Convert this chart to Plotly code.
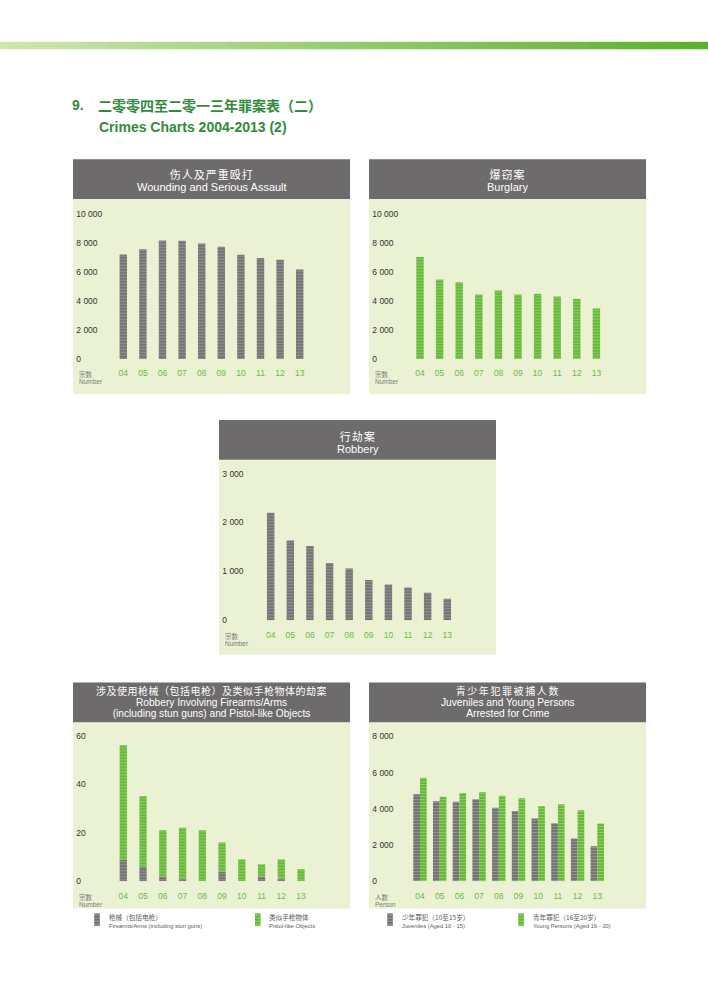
import plotly.graph_objects as go

# ---------------- data ----------------
years = ["04", "05", "06", "07", "08", "09", "10", "11", "12", "13"]
wounding = [7210, 7570, 8170, 8150, 7960, 7740, 7190, 6960, 6840, 6160]
burglary = [7030, 5470, 5290, 4440, 4710, 4440, 4490, 4300, 4140, 3480]
robbery = [2200, 1630, 1520, 1170, 1060, 820, 730, 670, 560, 440]
firearms = [9, 6, 2, 1, 0, 4, 0, 2, 1, 0]
pistol_like = [47, 29, 19, 21, 21, 12, 9, 5, 8, 5]
juveniles = [4800, 4410, 4390, 4520, 4060, 3880, 3460, 3200, 2360, 1940]
young_persons = [5710, 4670, 4870, 4910, 4720, 4580, 4140, 4250, 3920, 3190]

# ---------------- page geometry helpers ----------------
W, H = 708, 1001


def px(x):
    return x / W


def py(y):
    return 1 - y / H


LATIN = "Liberation Sans, Arial, Noto Sans CJK SC, sans-serif"
CJK = "Noto Sans CJK SC, Liberation Sans, sans-serif"
HEADER_GRAY = "#6d6b6c"
PANEL_BG = "#eaf2d3"
TICK_GREEN = "#69bd3f"
TITLE_GREEN = "#318b3b"

GRAY_MARKER = dict(color="#6c6c6c", line=dict(width=0),
                   pattern=dict(shape="-", fgcolor="#959595", bgcolor="#6c6c6c",
                                size=3, solidity=0.45, fillmode="replace"))
GREEN_MARKER = dict(color="#5cb531", line=dict(width=0),
                    pattern=dict(shape="-", fgcolor="#8fcd63", bgcolor="#5cb531",
                                 size=3, solidity=0.45, fillmode="replace"))


def zh_span(txt, size=11, spacing=1.0):
    return ("<span style=\"font-family:'Noto Sans CJK SC';font-size:%spx;"
            "letter-spacing:%spx\">%s</span>" % (size, spacing, txt))


def en_span(txt, size=11):
    return ("<span style=\"font-family:'Liberation Sans',Arial;font-size:%spx\">%s</span>"
            % (size, txt))


panels = [
    dict(left=73, right=350, htop=160, hbot=200, bot=396,
         zero=360.7, ref_val=10000, ref_y=215, ymax=10500, dtick=2000,
         first=123.3, step=19.6, unit=("宗数", "Number"),
         head=[zh_span("伤人及严重殴打"), en_span("Wounding and Serious Assault")],
         head_y=180.9, line_gap=11.8),
    dict(left=369, right=646, htop=160, hbot=200, bot=396,
         zero=360.7, ref_val=10000, ref_y=215, ymax=10500, dtick=2000,
         first=420.0, step=19.6, unit=("宗数", "Number"),
         head=[zh_span("爆窃案"), en_span("Burglary")],
         head_y=180.7, line_gap=12.0),
    dict(left=219, right=496, htop=422, hbot=462, bot=658,
         zero=623.3, ref_val=3000, ref_y=476, ymax=3150, dtick=1000,
         first=270.7, step=19.62, unit=("宗数", "Number"),
         head=[zh_span("行劫案"), en_span("Robbery")],
         head_y=443.6, line_gap=11.7),
    dict(left=73, right=350, htop=686, hbot=726, bot=913,
         zero=885.7, ref_val=60, ref_y=739.3, ymax=63, dtick=20,
         first=123.3, step=19.75, unit=("宗数", "Number"),
         head=[zh_span("涉及使用枪械（包括电枪）及类似手枪物体的劫案", 10, 0.5),
               en_span("Robbery Involving Firearms/Arms", 10.2),
               en_span("(including stun guns) and Pistol-like Objects", 10.2)],
         head_y=705.0, line_gap=11.0),
    dict(left=369, right=646, htop=686, hbot=726, bot=913,
         zero=885.7, ref_val=8000, ref_y=740, ymax=8400, dtick=2000,
         first=420.0, step=19.7, unit=("人数", "Person"),
         head=[zh_span("青少年犯罪被捕人数", 10, 1.6),
               en_span("Juveniles and Young Persons", 10.2),
               en_span("Arrested for Crime", 10.2)],
         head_y=705.0, line_gap=11.0),
]

fig = go.Figure()
shapes = []
annotations = []
layout_axes = {}

# ---------------- top gradient band ----------------
n_slices = 72
c0 = (206, 230, 175)
c1 = (90, 177, 44)
for i in range(n_slices):
    t = i / (n_slices - 1)
    col = "rgb({},{},{})".format(*[round(a + (b - a) * t) for a, b in zip(c0, c1)])
    x0 = W * i / n_slices
    x1 = W * (i + 1) / n_slices + 0.6
    shapes.append(dict(type="rect", xref="paper", yref="paper", layer="below",
                       x0=px(x0), x1=px(min(x1, W)), y0=py(49.5), y1=py(42),
                       fillcolor=col, line=dict(width=0)))

# ---------------- main title ----------------
annotations += [
    dict(text="<b>9.</b>", x=px(70), y=py(106), xref="paper", yref="paper",
         xanchor="left", yanchor="middle", showarrow=False,
         font=dict(family=LATIN, size=14, color=TITLE_GREEN)),
    dict(text="<b>二零零四至二零一三年罪案表（二）</b>", x=px(96), y=py(106),
         xref="paper", yref="paper", xanchor="left", yanchor="middle",
         showarrow=False, font=dict(family=CJK, size=14, color=TITLE_GREEN)),
    dict(text="<b>Crimes Charts 2004-2013 (2)</b>", x=px(96.5), y=py(127.5),
         xref="paper", yref="paper", xanchor="left", yanchor="middle",
         showarrow=False, font=dict(family=LATIN, size=14, color=TITLE_GREEN)),
]

# ---------------- panels: backgrounds, headers, axes ----------------
for k, p in enumerate(panels, start=1):
    shapes.append(dict(type="rect", xref="paper", yref="paper", layer="below",
                       x0=px(p["left"]), x1=px(p["right"]), y0=py(p["bot"]), y1=py(p["hbot"]),
                       fillcolor=PANEL_BG, line=dict(width=0)))
    shapes.append(dict(type="rect", xref="paper", yref="paper", layer="below",
                       x0=px(p["left"]), x1=px(p["right"]), y0=py(p["hbot"]), y1=py(p["htop"]),
                       fillcolor=HEADER_GRAY, line=dict(width=0)))
    cx = (p["left"] + p["right"]) / 2
    annotations.append(dict(text="<br>".join(p["head"]), x=px(cx), y=py(p["head_y"]),
                            xref="paper", yref="paper", xanchor="center", yanchor="middle",
                            align="center", showarrow=False, borderpad=0,
                            font=dict(family=LATIN, size=p["line_gap"] / 1.3, color="white")))
    # unit label
    ux = p["left"] + 4.3
    annotations.append(dict(text=p["unit"][0], x=px(ux), y=py(p["zero"] + 15.5), xref="paper",
                            yref="paper", xanchor="left", yanchor="middle", showarrow=False,
                            font=dict(family=CJK, size=6.5, color="#7a7a7a")))
    annotations.append(dict(text=p["unit"][1], x=px(ux), y=py(p["zero"] + 23), xref="paper",
                            yref="paper", xanchor="left", yanchor="middle", showarrow=False,
                            font=dict(family=LATIN, size=6.5, color="#7a7a7a")))

    scale = (p["zero"] - p["ref_y"]) / p["ref_val"]  # px per unit
    ytop_px = p["zero"] - p["ymax"] * scale
    dom_x0 = p["left"] + 0.3
    dom_x1 = p["right"] - 5
    a = -(p["first"] - dom_x0) / p["step"]
    b = a + (dom_x1 - dom_x0) / p["step"]
    sfx = "" if k == 1 else str(k)
    layout_axes["xaxis" + sfx] = dict(
        domain=[px(dom_x0), px(dom_x1)], anchor="y" + sfx, type="category",
        range=[a, b], showgrid=False, zeroline=False, showline=False, ticks="",
        tickfont=dict(family=LATIN, size=8.5, color=TICK_GREEN), ticklabelstandoff=8,
        fixedrange=True)
    layout_axes["yaxis" + sfx] = dict(
        domain=[py(p["zero"]), py(ytop_px)], anchor="x" + sfx, range=[0, p["ymax"]],
        tick0=0, dtick=p["dtick"], showgrid=False, zeroline=False, showline=False,
        ticks="", ticklabelposition="inside", ticklabeloverflow="allow",
        exponentformat="none", separatethousands=True,
        tickfont=dict(family=LATIN, size=8.5, color="#333333"),
        fixedrange=True)

# ---------------- traces ----------------
fig.add_trace(go.Bar(x=years, y=wounding, xaxis="x", yaxis="y", width=0.38,
                     marker=GRAY_MARKER, name="Wounding and Serious Assault", showlegend=False))
fig.add_trace(go.Bar(x=years, y=burglary, xaxis="x2", yaxis="y2", width=0.38,
                     marker=GREEN_MARKER, name="Burglary", showlegend=False))
fig.add_trace(go.Bar(x=years, y=robbery, xaxis="x3", yaxis="y3", width=0.38,
                     marker=GRAY_MARKER, name="Robbery", showlegend=False))
fig.add_trace(go.Bar(x=years, y=firearms, xaxis="x4", yaxis="y4", width=0.37,
                     marker=GRAY_MARKER, name="Firearms/Arms (including stun guns)",
                     showlegend=False))
fig.add_trace(go.Bar(x=years, y=pistol_like, base=firearms, xaxis="x4", yaxis="y4", width=0.37,
                     marker=GREEN_MARKER, name="Pistol-like Objects", showlegend=False))
fig.add_trace(go.Bar(x=years, y=juveniles, xaxis="x5", yaxis="y5", width=0.34, offset=-0.34,
                     marker=GRAY_MARKER, name="Juveniles (Aged 10 - 15)", showlegend=False))
fig.add_trace(go.Bar(x=years, y=young_persons, xaxis="x5", yaxis="y5", width=0.34, offset=0,
                     marker=GREEN_MARKER, name="Young Persons (Aged 16 - 20)", showlegend=False))

# ---------------- manual legends ----------------
legend_items = [
    (94.3, "#6c6c6c", "#959595", "枪械（包括电枪）", "Firearms/Arms (including stun guns)", 107.7),
    (255.0, "#5cb531", "#8fcd63", "类似手枪物体", "Pistol-like Objects", 267.7),
    (387.3, "#6c6c6c", "#959595", "少年罪犯（10至15岁）", "Juveniles (Aged 10 - 15)", 400.7),
    (518.3, "#5cb531", "#8fcd63", "青年罪犯（16至20岁）", "Young Persons (Aged 16 - 20)", 531.7),
]
for ix, dark, light, zh, en, tx in legend_items:
    shapes.append(dict(type="rect", xref="paper", yref="paper",
                       x0=px(ix), x1=px(ix + 5.5), y0=py(930.5), y1=py(918),
                       fillcolor=dark, line=dict(width=0)))
    for s in range(4):
        yy = 919.2 + s * 3
        shapes.append(dict(type="rect", xref="paper", yref="paper",
                           x0=px(ix), x1=px(ix + 5.5), y0=py(yy + 1.4), y1=py(yy),
                           fillcolor=light, line=dict(width=0)))
    zh_txt = ("<span style=\"font-family:'Noto Sans CJK SC';font-size:6.6px\">%s</span>" % zh)
    annotations.append(dict(text=zh_txt + "<br>" + en, x=px(tx), y=py(925.4), xref="paper",
                            yref="paper", xanchor="left", yanchor="middle", align="left",
                            showarrow=False, borderpad=0,
                            font=dict(family=LATIN, size=5.8, color="#5a5a5a")))

fig.update_layout(
    width=W, height=H, autosize=False,
    margin=dict(l=0, r=0, t=0, b=0, pad=0),
    paper_bgcolor="white", plot_bgcolor="rgba(0,0,0,0)",
    barmode="overlay", showlegend=False, separators=". ",
    shapes=shapes, annotations=annotations,
    **layout_axes,
)

fig.write_html("out.html", config={"displayModeBar": False})
